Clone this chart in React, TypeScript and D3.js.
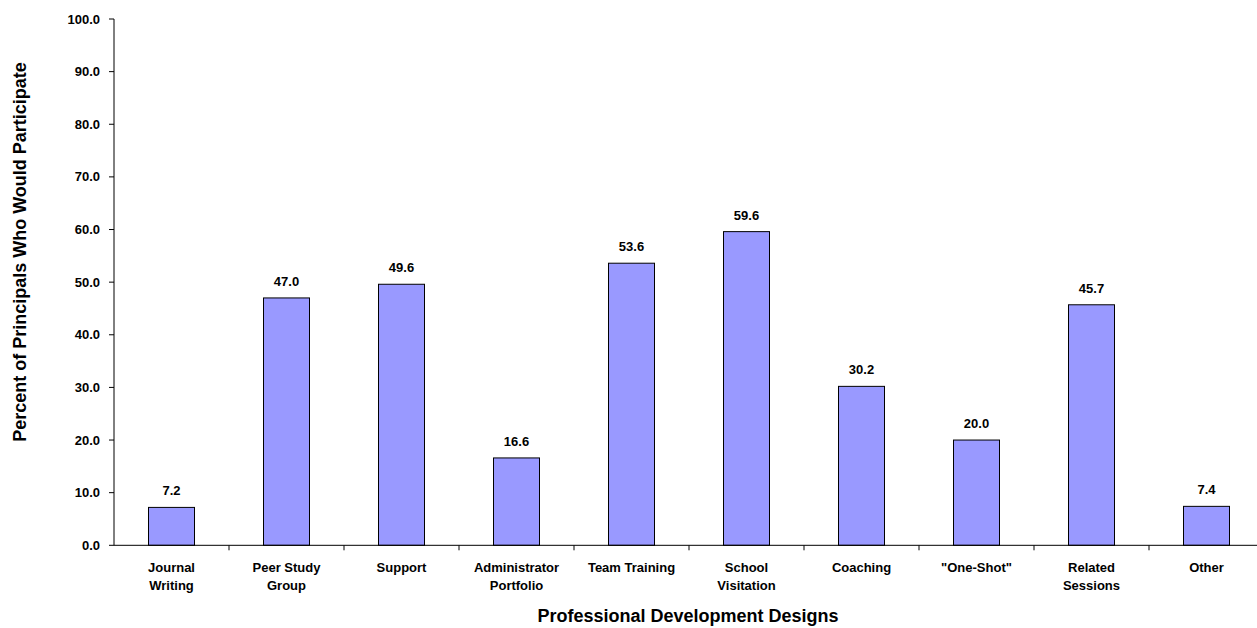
import React from "react";
import * as d3 from "d3";

const categories: string[][] = [
  ["Journal", "Writing"],
  ["Peer Study", "Group"],
  ["Support"],
  ["Administrator", "Portfolio"],
  ["Team Training"],
  ["School", "Visitation"],
  ["Coaching"],
  ["\"One-Shot\""],
  ["Related", "Sessions"],
  ["Other"],
];
const values: number[] = [7.2, 47.0, 49.6, 16.6, 53.6, 59.6, 30.2, 20.0, 45.7, 7.4];
const yTicks: number[] = [0, 10, 20, 30, 40, 50, 60, 70, 80, 90, 100];
const yTitle = "Percent of Principals Who Would Participate";
const xTitle = "Professional Development Designs";

const W = 1257;
const H = 628;
const font = "Arial, 'Liberation Sans', Helvetica, sans-serif";

export default function App() {
  const keys = categories.map((_, i) => String(i));
  const x = d3.scaleBand<string>().domain(keys).range([114, 1264]).paddingInner(0.6).paddingOuter(0.3);
  const y = d3.scaleLinear().domain([0, 100]).range([545.3, 19]);
  const step = x.step();
  const x0 = 114;
  const y0 = y(0);

  return (
    <svg width={W} height={H} style={{ position: "absolute", left: 0, top: 0, background: "#fff" }} fontFamily={font}>
      {values.map((v, i) => (
        <rect
          key={"b" + i}
          x={x(String(i))!}
          y={y(v)}
          width={x.bandwidth()}
          height={y0 - y(v)}
          fill="#9999FF"
          stroke="#000"
          strokeWidth={1}
        />
      ))}
      {values.map((v, i) => (
        <text
          key={"v" + i}
          x={x(String(i))! + x.bandwidth() / 2}
          y={y(v) - 12}
          textAnchor="middle"
          fontSize={13}
          fontWeight="bold"
          fill="#000"
        >
          {v.toFixed(1)}
        </text>
      ))}
      <line x1={x0} x2={x0} y1={y(100)} y2={y0} stroke="#000" strokeWidth={1} />
      {yTicks.map((t) => (
        <g key={"yt" + t}>
          <line x1={x0 - 5} x2={x0} y1={y(t)} y2={y(t)} stroke="#000" strokeWidth={1} />
          <text x={100} y={y(t)} dy="0.35em" textAnchor="end" fontSize={13} fontWeight="bold" fill="#000">
            {t.toFixed(1)}
          </text>
        </g>
      ))}
      <line x1={x0} x2={x0 + step * categories.length} y1={y0} y2={y0} stroke="#000" strokeWidth={1} />
      {d3.range(1, categories.length + 1).map((k) => (
        <line key={"xt" + k} x1={x0 + step * k} x2={x0 + step * k} y1={y0} y2={y0 + 5} stroke="#000" strokeWidth={1} />
      ))}
      {categories.map((lines, i) => (
        <text
          key={"c" + i}
          x={x(String(i))! + x.bandwidth() / 2}
          y={572}
          textAnchor="middle"
          fontSize={13}
          fontWeight="bold"
          fill="#000"
        >
          {lines.map((l, j) => (
            <tspan key={j} x={x(String(i))! + x.bandwidth() / 2} dy={j === 0 ? 0 : 18}>
              {l}
            </tspan>
          ))}
        </text>
      ))}
      <text
        transform={`translate(20,252) rotate(-90)`}
        textAnchor="middle"
        dy="0.35em"
        fontSize={18}
        fontWeight="bold"
        fill="#000"
      >
        {yTitle}
      </text>
      <text x={688} y={622} textAnchor="middle" fontSize={18} fontWeight="bold" fill="#000">
        {xTitle}
      </text>
    </svg>
  );
}
